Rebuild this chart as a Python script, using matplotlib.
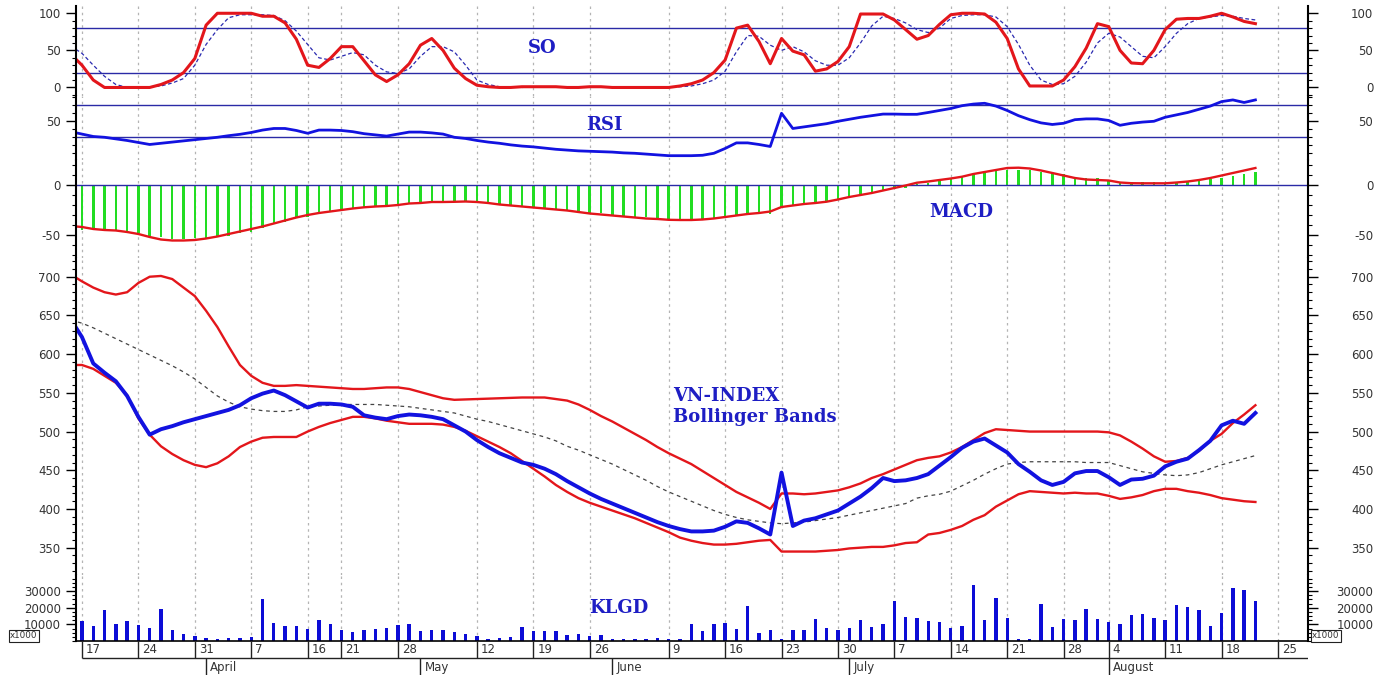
import numpy as np
import matplotlib
matplotlib.use('Agg')
import matplotlib.pyplot as plt
from matplotlib.ticker import MultipleLocator

# trading-day index (0 = 17 March); day -1 only feeds the line up to the left edge
days = np.arange(-1, 105)
bar_days = np.arange(0, 105)

# Stochastic oscillator (%K red, %D dashed)
so_k = [45, 30, 10, 0, 0, 0, 0, 0, 4, 10, 20, 39, 84, 100, 100, 100, 100, 96, 96, 87, 65,
        30, 27, 39, 55, 55, 36, 17, 8, 17, 32, 57, 66, 50, 26, 12, 3, 1, 0, 0, 1,
        1, 1, 1, 0, 0, 1, 1, 0, 0, 0, 0, 0, 0, 2, 5, 10, 20, 37, 80, 84,
        62, 32, 66, 49, 44, 22, 25, 35, 55, 99, 99, 99, 91, 78, 65, 70, 85, 98, 100, 100,
        99, 88, 66, 25, 2, 2, 2, 10, 28, 53, 86, 82, 50, 33, 32, 50, 78, 92, 93, 93,
        96, 100, 95, 89, 86]
so_d = [56, 46, 30, 15, 4, 0, 0, 1, 2, 6, 12, 30, 58, 78, 94, 98, 98, 98, 97, 90, 76,
        58, 40, 37, 42, 47, 44, 30, 21, 19, 25, 42, 55, 55, 48, 30, 10, 4, 1, 1, 0,
        1, 1, 1, 1, 0, 1, 1, 0, 0, 0, 0, 0, 0, 1, 2, 5, 10, 22, 48, 70,
        69, 57, 50, 55, 48, 36, 30, 30, 40, 60, 83, 96, 93, 87, 78, 74, 80, 93, 97, 98,
        98, 95, 82, 58, 30, 10, 4, 5, 15, 34, 60, 73, 68, 55, 42, 40, 55, 73, 86, 93,
        95, 97, 96, 93, 91]

rsi = [37, 34, 31, 30, 28, 26, 23.5, 21, 22.5, 24, 25.5, 27, 28.5, 30, 32, 33.7, 36, 39, 41, 41, 38.5,
       35, 39, 39, 38.5, 37, 34.5, 33, 31.5, 34, 36.5, 36.5, 35.5, 34, 30, 28.5, 26, 24, 22.5, 20.5, 19,
       18, 16.5, 15, 14, 13, 12.5, 12, 11.5, 10.5, 10, 9, 8, 7, 7, 7, 7.5, 10, 16, 23, 23,
       21, 18.5, 60, 41, 43, 45, 47, 50, 52.5, 55, 57, 59, 59, 58.7, 58.7, 61, 63.5, 66, 69.5, 71.5,
       72.5, 69, 63.5, 57, 52, 48, 46, 47.5, 52, 53, 53, 51, 45, 47.5, 49, 50, 55, 58, 61, 65,
       69, 74.6, 76.7, 73.5, 76.7]

macd_hist = [-45, -44, -45, -46, -47, -48, -50.7, -52, -54, -54, -53.3, -53.3, -52, -51, -47.7,
             -46.7, -43.3, -39.3, -36.7, -33.3, -31.7, -29.3, -26.7, -25.7, -23.3, -22.3, -21.7,
             -20, -19, -18.3, -17.7, -17.3, -17, -16.7, -16.7, -17.3, -17.7, -19, -20, -21, -22.3,
             -23, -24.3, -25, -25.7, -27.7, -28.3, -30, -31, -31.7, -32.3, -33.3, -34.3, -35, -35,
             -34.3, -33.3, -31.7, -30, -28.3, -28.3, -29, -21.7, -20, -19, -18.3, -16.7, -15, -12.3,
             -10, -7.7, -5.7, -3.5, -2.5, 0.8, 1.7, 4, 5.7, 7.7, 10.7, 12.3, 14, 15, 15, 15, 13.3,
             12.3, 11, 7.7, 7.3, 6.7, 5, 3.3, 3.3, 2.7, 2.7, 2.3, 2.7, 4, 5, 6, 7.3, 9.3, 11, 13.3]
macd_signal = [-41, -42, -44, -45, -45.5, -47, -49, -52, -54.5, -55.5, -55.5, -55, -53.5, -51.5, -49,
               -46.5, -44, -41.5, -38.5, -35.5, -32.5, -30, -28, -26.5, -25, -23.5, -22.3, -21.5, -21,
               -20, -18.5, -18, -17, -17, -16.8, -16.5, -17, -18, -19.5, -20.5, -21.5, -22.5, -23.5,
               -24.5, -25.5, -27, -28.5, -29.5, -30.5, -31.5, -32.5, -33.5, -34, -34.8, -35, -35,
               -34.5, -33.5, -32, -30.5, -29, -28, -26.5, -22, -20.5, -19, -18, -16.7, -14.5, -12,
               -10, -8, -5.5, -3, -0.5, 2.3, 3.5, 5, 6.5, 8.3, 11, 13, 15, 17, 17.3, 16.5, 14.5, 12,
               9.5, 7, 5.5, 5, 4.5, 2.5, 1.8, 1.7, 1.7, 1.7, 2.5, 3.5, 5, 7, 9.5, 12, 14.5, 17]

# VN-INDEX close and Bollinger bands
price = [645, 622, 588, 576, 565, 546, 519, 496, 503, 507, 512, 516, 520, 524, 528, 534, 543, 549, 553,
         547, 539, 531, 536, 536, 535, 532, 521, 518, 516, 520, 522, 521, 519, 516, 508, 500, 489, 480,
         472, 466, 460, 457, 452, 445, 436, 428, 420, 413, 407, 401, 395, 389, 383, 378, 374, 371, 371,
         372, 377, 384, 382, 375, 367, 447, 378, 385, 388, 393, 398, 407, 416, 427, 440, 436, 437, 440,
         445, 456, 467, 479, 487, 491, 482, 473, 458, 448, 437, 431, 435, 446, 449, 449, 441, 431, 438,
         439, 443, 455, 461, 465, 476, 488, 508, 514, 510, 524]
bb_upper = [703, 694, 686, 680, 677, 680, 692, 700, 701, 697, 686, 675, 656, 635, 610, 586, 572, 563,
            559, 559, 560, 559, 558, 557, 556, 555, 555, 556, 557, 557, 555, 551, 547, 543, 541, 541.5,
            542, 542.5, 543, 543.5, 544, 544, 544, 542, 540, 535, 528, 520, 513, 505, 497, 489, 480,
            472, 465, 458, 449, 440, 431, 422, 415, 408, 400, 420, 420, 419, 420, 422, 424, 428, 433,
            440, 445, 451, 457, 463, 466, 468, 473, 480, 489, 498, 503, 502, 501, 500, 500, 500, 500,
            500, 500, 500, 499, 495, 487, 478, 468, 461, 462, 466, 475, 488, 497, 511, 522, 534]
bb_mid = [644, 640, 634, 627, 620, 613, 606, 599, 592, 585, 577, 568, 557, 546, 538, 532, 529, 527,
          526, 526, 528, 532, 533, 534, 535, 535, 535, 535, 534, 533, 532, 530, 528, 526, 524, 520,
          516, 513, 509, 505, 501, 497, 493, 488, 481, 476, 470, 464, 458, 451, 444, 437, 429, 422,
          416, 410, 404, 398, 393, 389, 386, 384, 382, 381, 382, 383, 385, 387, 389, 392, 395, 398,
          401, 404, 407, 414, 417, 419, 423, 430, 437, 445, 452, 458, 460, 461, 461, 461, 461, 461,
          460, 460, 460, 456, 452, 448, 446, 444, 443, 444, 447, 452, 457, 461, 465, 469]
bb_lower = [586, 586, 581, 572, 563, 547, 517, 496, 481, 471, 463, 457, 454, 459, 468, 480, 487, 492,
            493, 493, 493, 500, 506, 511, 515, 519, 519, 517, 514, 512, 510, 510, 510, 509, 506, 501,
            494, 487, 480, 472, 462, 452, 442, 431, 422, 414, 408, 403, 398, 393, 388, 382, 376, 370,
            363, 359, 356, 354, 354, 355, 357, 359, 360, 345, 345, 345, 345, 346, 347, 349, 350, 351,
            351, 353, 356, 357, 367, 369, 373, 378, 386, 392, 403, 411, 419, 423, 422, 421, 420, 421,
            420, 420, 417, 413, 415, 418, 423, 426, 426, 423, 421, 418, 414, 412, 410, 409]

# KLGD (volume, x1000)
volume = [12000, 9000, 18500, 10500, 12000, 9500, 8000, 19000, 6800, 4200, 3200, 2000, 1200, 2000,
          2000, 2500, 25000, 10800, 9000, 9000, 7000, 12800, 10500, 6500, 5500, 6500, 7200, 8000,
          9500, 10000, 6000, 6800, 6800, 5500, 4200, 3000, 1500, 2000, 2500, 8500, 6000, 5800, 5800,
          3500, 4000, 3000, 3500, 1500, 1500, 1500, 1500, 2000, 1000, 1500, 10300, 6150, 10000,
          11000, 7100, 21300, 4800, 6500, 1500, 6500, 6500, 13300, 7700, 6500, 7700, 12700, 8300,
          10200, 24000, 14200, 13700, 12100, 11200, 7700, 9200, 33500, 12700, 25800, 13700, 1500,
          1500, 22500, 8700, 13300, 12700, 19200, 13300, 11700, 10200, 15800, 16300, 13800, 12700,
          21900, 20200, 18500, 8800, 17100, 31900, 30800, 24000]

week_pos = [0, 5, 10, 15, 20, 23, 28, 35, 40, 45, 52, 57, 62, 67, 72, 77, 82, 87, 91, 96, 101, 106]
week_labels = ['17', '24', '31', '7', '16', '21', '28', '12', '19', '26', '9', '16', '23', '30',
               '7', '14', '21', '28', '4', '11', '18', '25']
month_pos = [11, 30, 47, 68, 91]
month_labels = ['April', 'May', 'June', 'July', 'August']

RED = '#e3161b'
BLUE = '#1212e0'
REF = '#2a2aa6'
TITLE = '#1e1ec4'
TICK = '#333333'

W, H = 1386, 675
X0, X1 = 76, 1308
fig = plt.figure(figsize=(W / 100, H / 100), dpi=100)
plt.rcParams['font.family'] = ['DejaVu Sans']


def add_panel(top, bottom):
    return fig.add_axes([X0 / W, 1 - bottom / H, (X1 - X0) / W, (bottom - top) / H])


def setup(ax, lo, hi, major, minor):
    ax.set_xlim(-0.53, 108.66)
    ax.set_ylim(lo, hi)
    ax.set_xticks([])
    for s in ['top', 'bottom', 'right']:
        ax.spines[s].set_visible(False)
    ax.spines['left'].set_linewidth(1.5)
    for p in week_pos:
        ax.axvline(p, color='#b4b4b4', lw=0.9, ls=(0, (2, 3)), zorder=0)
    labels = [str(v) for v in major]
    ax.set_yticks(major, labels)
    ax.yaxis.set_minor_locator(MultipleLocator(minor))
    ax.tick_params(axis='y', which='major', length=7, width=1, pad=4, labelsize=8.5, labelcolor=TICK)
    ax.tick_params(axis='y', which='minor', length=3, width=0.8)
    rax = ax.twinx()
    rax.set_ylim(lo, hi)
    for s in ['top', 'bottom', 'left']:
        rax.spines[s].set_visible(False)
    rax.spines['right'].set_linewidth(1.5)
    rax.set_yticks(major, labels, ha='right')
    rax.yaxis.set_minor_locator(MultipleLocator(minor))
    rax.tick_params(axis='y', which='major', length=7, width=1, pad=40, labelsize=8.5, labelcolor=TICK)
    rax.tick_params(axis='y', which='minor', length=3, width=0.8)
    return rax


# SO panel
ax_so = add_panel(6, 96)
setup(ax_so, -11.5, 109.8, [0, 50, 100], 10)
ax_so.axhline(80, color=REF, lw=1)
ax_so.axhline(20, color=REF, lw=1)
ax_so.plot(days, so_d, color='#2a2ab0', lw=0.9, ls=(0, (3, 2)))
ax_so.plot(days, so_k, color=RED, lw=2.2)

# RSI panel
ax_rsi = add_panel(96, 160)
setup(ax_rsi, 1.6, 81.6, [50], 10)
ax_rsi.axhline(70, color=REF, lw=1)
ax_rsi.axhline(30, color=REF, lw=1)
ax_rsi.plot(days, rsi, color=BLUE, lw=2)

# MACD panel
ax_macd = add_panel(160, 258)
setup(ax_macd, -73, 25, [-50, 0], 10)
ax_macd.axhline(0, color=REF, lw=1)
ax_macd.bar(bar_days, macd_hist, width=0.22, color='#22dd22')
ax_macd.plot(days, macd_signal, color=RED, lw=1.7)

# Bollinger panel
ax_bb = add_panel(258, 575)
setup(ax_bb, 314.7, 724.2, [350, 400, 450, 500, 550, 600, 650, 700], 10)
ax_bb.plot(days, bb_mid, color='#444444', lw=0.9, ls=(0, (3, 3)))
ax_bb.plot(days, bb_upper, color=RED, lw=1.7)
ax_bb.plot(days, bb_lower, color=RED, lw=1.7)
ax_bb.plot(days, price, color=BLUE, lw=2.8)

# Volume panel
ax_vol = add_panel(575, 641)
setup(ax_vol, 0, 39600, [10000, 20000, 30000], 2500)
ax_vol.spines['bottom'].set_visible(True)
ax_vol.spines['bottom'].set_linewidth(1.2)
ax_vol.bar(bar_days, volume, width=0.3, color='#0c0cd6')

# date axis
dax = add_panel(641, 675)
dax.set_xlim(-0.53, 108.66)
dax.set_ylim(34, 0)
dax.axis('off')
dax.vlines(week_pos, 0, 17, color='#222222', lw=1)
dax.hlines(17, week_pos[0], 108.66, color='#222222', lw=1)
dax.vlines(month_pos, 17, 34, color='#222222', lw=1)
for p, lab in zip(week_pos, week_labels):
    dax.text(p + 0.35, 8.5, lab, ha='left', va='center', fontsize=8.5, color=TICK)
for p, lab in zip(month_pos, month_labels):
    dax.text(p + 0.35, 26, lab, ha='left', va='center', fontsize=8.5, color=TICK)

# x1000 boxes
box = dict(boxstyle='square,pad=0.12', fc='white', ec='#222222', lw=0.8)
fig.text(10 / W, 1 - 636 / H, 'x1000', fontsize=6.3, color=TICK, va='center', ha='left', bbox=box)
fig.text(1312 / W, 1 - 636 / H, 'x1000', fontsize=6.3, color=TICK, va='center', ha='left', bbox=box)

# panel titles
tfont = dict(family='DejaVu Serif', weight='bold', color=TITLE, fontsize=13)
fig.text(542 / W, 1 - 48 / H, 'SO', ha='center', va='center', **tfont)
fig.text(604 / W, 1 - 125 / H, 'RSI', ha='center', va='center', **tfont)
fig.text(961 / W, 1 - 212 / H, 'MACD', ha='center', va='center', **tfont)
fig.text(673 / W, 1 - 396 / H, 'VN-INDEX', ha='left', va='center', **tfont)
fig.text(673 / W, 1 - 417 / H, 'Bollinger Bands', ha='left', va='center', **tfont)
fig.text(619 / W, 1 - 608 / H, 'KLGD', ha='center', va='center', **tfont)

fig.savefig('out.png', dpi=100, facecolor='white')
